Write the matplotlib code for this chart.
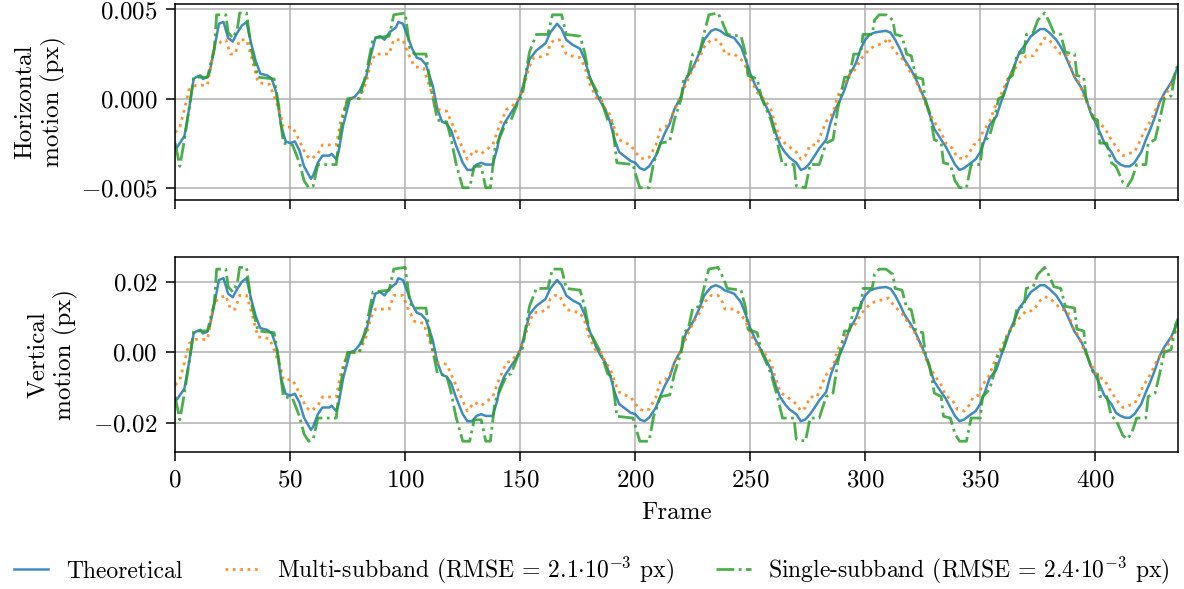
import numpy as np
import matplotlib
matplotlib.use("Agg")
import matplotlib.pyplot as plt

# Motion
# each entry: (frame, horizontal in 1e-3 px, vertical in 1e-3 px)
theoretical = [
    (0, -2.8, -13.7), (1, -2.7, -13.2), (4, -2.1, -10.3), (6, -0.6, -2.9), (8, 1.1, 5.4),
    (9, 1.2, 5.9), (11, 1.3, 6.4), (12, 1.1, 5.4), (14, 1.2, 5.9), (15, 1.5, 7.4),
    (17, 2.8, 13.7), (19, 4.2, 20.6), (21, 4.3, 21.1), (23, 3.4, 16.7), (25, 3.2, 15.7),
    (27, 3.7, 18.1), (29, 4.1, 20.1), (31, 4.3, 21.1), (33, 3.1, 15.2), (35, 2.1, 10.3),
    (37, 1.4, 6.9), (40, 1.3, 6.4), (42, 1.1, 5.4), (44, 0.3, 1.5), (46, -1.5, -7.4),
    (48, -2.4, -11.8), (50, -2.5, -12.3), (52, -2.4, -11.8), (54, -2.9, -14.2), (56, -3.8, -18.6),
    (59, -4.5, -22.1), (60, -4.3, -21.1), (62, -3.6, -17.6), (64, -3.2, -15.7), (67, -3.2, -15.7),
    (68, -3.1, -15.2), (70, -3.4, -16.7), (71, -3.0, -14.7), (73, -1.5, -7.4), (76, 0.0, 0.0),
    (78, 0.1, 0.5), (80, 0.4, 2.0), (83, 1.2, 5.9), (85, 2.4, 11.8), (87, 3.4, 16.7),
    (89, 3.5, 17.2), (91, 3.3, 16.2), (93, 3.7, 18.1), (96, 4.0, 19.6), (97, 4.3, 21.1),
    (99, 4.2, 20.6), (101, 3.5, 17.2), (103, 2.8, 13.7), (105, 2.3, 11.3), (107, 2.2, 10.8),
    (109, 1.9, 9.3), (112, 0.7, 3.4), (114, -0.6, -2.9), (116, -1.3, -6.4), (118, -1.4, -6.9),
    (120, -1.8, -8.8), (122, -2.6, -12.7), (125, -3.6, -17.6), (127, -4.0, -19.6), (129, -4.0, -19.6),
    (131, -3.7, -18.1), (133, -3.6, -17.6), (135, -3.7, -18.1), (138, -3.7, -18.1), (140, -2.8, -13.7),
    (141, -2.1, -10.3), (143, -1.4, -6.9), (146, -0.8, -3.9), (148, -0.4, -2.0), (150, 0.15, 0.7),
    (152, 1.1, 5.4), (154, 2.2, 10.8), (157, 2.7, 13.2), (159, 2.9, 14.2), (161, 3.1, 15.2),
    (163, 3.7, 18.1), (166, 4.2, 20.6), (168, 3.9, 19.1), (170, 3.3, 16.2), (173, 3.0, 14.7),
    (176, 2.8, 13.7), (178, 2.2, 10.8), (180, 1.3, 6.4), (183, 0.3, 1.5), (185, -0.2, -1.0),
    (187, -0.6, -2.9), (189, -1.3, -6.4), (191, -2.3, -11.3), (193, -3.0, -14.7), (196, -3.3, -16.2),
    (198, -3.5, -17.2), (200, -3.6, -17.6), (202, -3.9, -19.1), (204, -4.0, -19.6), (206, -3.8, -18.6),
    (209, -3.2, -15.7), (211, -2.5, -12.3), (213, -1.9, -9.3), (215, -1.4, -6.9), (217, -0.6, -2.9),
    (220, 0.15, 0.7), (222, 1.1, 5.4), (224, 1.5, 7.4), (226, 2.0, 9.8), (228, 2.6, 12.7),
    (230, 3.3, 16.2), (233, 3.8, 18.6), (235, 3.9, 19.1), (237, 3.8, 18.6), (239, 3.6, 17.6),
    (241, 3.5, 17.2), (243, 3.4, 16.7), (246, 2.9, 14.2), (248, 2.2, 10.8), (250, 1.4, 6.9),
    (252, 0.8, 3.9), (254, 0.3, 1.5), (256, -0.2, -1.0), (259, -1.0, -4.9), (261, -1.9, -9.3),
    (263, -2.6, -12.7), (265, -3.0, -14.7), (267, -3.3, -16.2), (270, -3.6, -17.6), (272, -4.0, -19.6),
    (274, -3.9, -19.1), (276, -3.6, -17.6), (278, -3.2, -15.7), (280, -2.8, -13.7), (283, -2.3, -11.3),
    (285, -1.3, -6.4), (287, -0.6, -2.9), (289, -0.1, -0.5), (291, 0.5, 2.5), (293, 1.3, 6.4),
    (296, 2.0, 9.8), (298, 2.8, 13.7), (300, 3.3, 16.2), (302, 3.6, 17.6), (304, 3.7, 18.1),
    (306, 3.75, 18.4), (309, 3.8, 18.6), (311, 3.7, 18.1), (313, 3.3, 16.2), (315, 2.8, 13.7),
    (317, 2.2, 10.8), (320, 1.6, 7.8), (322, 1.1, 5.4), (324, 0.5, 2.5), (326, -0.1, -0.5),
    (328, -0.9, -4.4), (330, -1.7, -8.3), (333, -2.3, -11.3), (335, -2.7, -13.2), (337, -3.2, -15.7),
    (339, -3.7, -18.1), (341, -4.0, -19.6), (343, -3.9, -19.1), (346, -3.6, -17.6), (348, -3.4, -16.7),
    (350, -3.0, -14.7), (352, -2.3, -11.3), (354, -1.5, -7.4), (357, -1.0, -4.9), (359, -0.2, -1.0),
    (361, 0.5, 2.5), (363, 1.3, 6.4), (365, 1.9, 9.3), (367, 2.6, 12.7), (370, 3.1, 15.2),
    (372, 3.5, 17.2), (374, 3.7, 18.1), (376, 3.9, 19.1), (378, 3.9, 19.1), (380, 3.7, 18.1),
    (383, 3.3, 16.2), (385, 2.9, 14.2), (387, 2.4, 11.8), (389, 1.8, 8.8), (391, 1.2, 5.9),
    (394, 0.6, 2.9), (396, 0.0, 0.0), (398, -0.8, -3.9), (400, -1.3, -6.4), (402, -1.9, -9.3),
    (404, -2.5, -12.3), (407, -3.0, -14.7), (409, -3.5, -17.2), (411, -3.7, -18.1), (413, -3.8, -18.6),
    (415, -3.8, -18.6), (417, -3.6, -17.6), (420, -3.0, -14.7), (422, -2.3, -11.3), (424, -1.7, -8.3),
    (426, -1.0, -4.9), (428, -0.2, -1.0), (430, 0.3, 1.5), (433, 0.9, 4.4), (435, 1.5, 7.4),
    (436, 1.8, 8.8),
]

multi_subband = [
    (0, -1.9, -9.3), (2, -1.6, -7.8), (4, -0.6, -2.9), (6, 0.5, 2.5), (9, 0.75, 3.7),
    (14, 0.75, 3.7), (15, 1.5, 7.4), (17, 2.9, 14.2), (20, 3.2, 15.7), (22, 3.3, 16.2),
    (24, 2.5, 12.3), (26, 2.5, 12.3), (28, 3.3, 16.2), (31, 3.3, 16.2), (33, 2.4, 11.8),
    (36, 0.9, 4.4), (41, 0.8, 3.9), (43, 0.15, 0.7), (46, -1.0, -4.9), (47, -1.6, -7.8),
    (51, -1.6, -7.8), (53, -2.1, -10.3), (57, -3.2, -15.7), (59, -3.4, -16.7), (62, -3.1, -15.2),
    (64, -2.6, -12.7), (70, -2.6, -12.7), (72, -1.2, -5.9), (75, 0.0, 0.0), (80, 0.0, 0.0),
    (83, 0.9, 4.4), (85, 2.0, 9.8), (87, 2.5, 12.3), (93, 2.5, 12.3), (95, 3.3, 16.2),
    (99, 3.3, 16.2), (101, 2.6, 12.7), (104, 1.8, 8.8), (108, 1.7, 8.3), (110, 0.9, 4.4),
    (114, -0.6, -2.9), (118, -0.7, -3.4), (121, -1.6, -7.8), (124, -2.5, -12.3), (127, -3.4, -16.7),
    (130, -2.9, -14.2), (133, -3.1, -15.2), (138, -2.6, -12.7), (141, -1.5, -7.4), (144, -0.6, -2.9),
    (146, -0.5, -2.5), (148, -0.2, -1.0), (150, 0.15, 0.7), (152, 0.9, 4.4), (154, 1.8, 8.8),
    (156, 2.3, 11.3), (159, 2.35, 11.5), (162, 2.5, 12.3), (163, 3.1, 15.2), (165, 3.3, 16.2),
    (167, 3.3, 16.2), (170, 2.5, 12.3), (172, 2.4, 11.8), (176, 2.3, 11.3), (178, 1.8, 8.8),
    (180, 0.9, 4.4), (183, 0.05, 0.2), (185, 0.0, 0.0), (187, -0.6, -2.9), (189, -0.9, -4.4),
    (191, -1.7, -8.3), (193, -2.3, -11.3), (196, -2.5, -12.3), (198, -2.6, -12.7), (200, -3.0, -14.7),
    (202, -3.3, -16.2), (204, -3.4, -16.7), (206, -3.3, -16.2), (209, -2.6, -12.7), (211, -1.7, -8.3),
    (213, -1.6, -7.8), (215, -1.3, -6.4), (217, -0.6, -2.9), (220, 0.15, 0.7), (222, 0.8, 3.9),
    (224, 1.4, 6.9), (226, 1.9, 9.3), (228, 2.3, 11.3), (230, 2.9, 14.2), (233, 3.3, 16.2),
    (236, 3.3, 16.2), (238, 2.9, 14.2), (239, 2.5, 12.3), (243, 2.5, 12.3), (246, 2.2, 10.8),
    (248, 1.8, 8.8), (250, 1.1, 5.4), (252, 0.6, 2.9), (254, 0.15, 0.7), (256, 0.0, 0.0),
    (259, -0.6, -2.9), (261, -1.5, -7.4), (263, -2.3, -11.3), (265, -2.5, -12.3), (267, -2.7, -13.2),
    (270, -3.0, -14.7), (272, -3.4, -16.7), (274, -3.2, -15.7), (276, -2.6, -12.7), (279, -2.6, -12.7),
    (281, -1.9, -9.3), (283, -1.3, -6.4), (286, -0.8, -3.9), (288, 0.15, 0.7), (291, 0.8, 3.9),
    (293, 1.3, 6.4), (296, 1.7, 8.3), (298, 2.2, 10.8), (300, 2.5, 12.3), (302, 2.8, 13.7),
    (305, 3.0, 14.7), (308, 3.1, 15.0), (310, 3.4, 15.5), (312, 2.8, 13.7), (314, 2.5, 12.3),
    (317, 2.1, 10.3), (319, 1.6, 7.8), (321, 1.3, 6.4), (323, 0.7, 3.4), (325, 0.15, 0.7),
    (327, -0.6, -2.9), (330, -1.3, -6.4), (333, -1.9, -9.3), (335, -2.5, -12.3), (338, -2.8, -13.7),
    (340, -3.3, -16.2), (343, -3.4, -16.7), (345, -3.1, -15.2), (347, -2.6, -12.7), (349, -2.5, -12.3),
    (351, -1.9, -9.3), (354, -1.3, -6.4), (356, -0.6, -2.9), (358, 0.0, 0.0), (360, 0.5, 2.5),
    (362, 1.1, 5.4), (364, 1.5, 7.4), (367, 2.0, 9.8), (370, 2.4, 11.8), (373, 2.4, 11.8),
    (376, 3.0, 14.7), (378, 3.4, 15.8), (380, 3.3, 15.5), (383, 2.8, 13.7), (385, 2.5, 12.3),
    (388, 2.4, 11.8), (390, 1.5, 7.4), (393, 0.9, 4.4), (395, 0.15, 0.7), (397, -0.4, -2.0),
    (399, -0.9, -4.4), (401, -1.4, -6.9), (404, -1.6, -7.8), (406, -2.1, -10.3), (408, -2.5, -12.3),
    (410, -2.9, -14.2), (412, -3.2, -15.7), (414, -3.1, -15.2), (417, -3.0, -14.7), (419, -2.5, -12.3),
    (421, -1.9, -9.3), (423, -1.5, -7.4), (425, -1.0, -4.9), (427, -0.4, -2.0), (430, 0.15, 0.7),
    (432, 0.5, 2.5), (434, 1.1, 5.4), (436, 1.3, 6.4),
]

single_subband = [
    (0, -2.5, -12.6), (2, -3.8, -19.2), (4, -2.3, -11.6), (6, -0.6, -3.0), (8, 1.2, 6.1),
    (14, 1.2, 6.1), (17, 2.8, 14.1), (18, 4.7, 23.7), (22, 4.7, 23.7), (23, 3.7, 18.7),
    (25, 3.4, 17.2), (27, 3.9, 19.7), (28, 4.8, 24.2), (31, 4.8, 24.2), (33, 2.8, 14.1),
    (36, 1.2, 6.1), (43, 1.1, 5.6), (45, -0.4, -2.0), (47, -2.5, -12.6), (51, -2.6, -13.1),
    (54, -3.6, -18.2), (56, -4.6, -23.2), (58, -5.0, -25.3), (60, -4.9, -24.7), (62, -3.7, -18.7),
    (70, -3.7, -18.7), (71, -2.5, -12.6), (73, -1.0, -5.1), (75, 0.0, 0.0), (80, 0.0, 0.0),
    (83, 1.4, 7.1), (86, 3.4, 17.2), (93, 3.5, 17.7), (95, 4.7, 23.7), (100, 4.8, 24.2),
    (102, 2.8, 14.1), (104, 2.5, 12.6), (109, 2.5, 12.6), (111, 0.7, 3.5), (114, -1.2, -6.1),
    (118, -1.3, -6.6), (120, -2.3, -11.6), (122, -3.6, -18.2), (125, -5.0, -25.3), (128, -5.0, -25.3),
    (130, -3.8, -19.2), (133, -3.8, -19.2), (135, -5.0, -25.3), (137, -5.0, -25.3), (139, -2.8, -14.1),
    (141, -2.2, -11.1), (144, -1.3, -6.6), (146, -1.2, -6.1), (149, -0.2, -1.0), (151, 0.24, 1.2),
    (152, 1.1, 5.6), (154, 2.6, 13.1), (157, 3.6, 18.2), (162, 3.6, 18.2), (164, 4.7, 23.7),
    (168, 4.7, 23.7), (170, 3.6, 18.2), (176, 3.5, 17.7), (178, 2.6, 13.1), (180, 1.2, 6.1),
    (185, 0.0, 0.0), (188, -1.2, -6.1), (190, -1.4, -7.1), (192, -3.6, -18.2), (199, -3.7, -18.7),
    (201, -4.6, -23.2), (202, -5.0, -25.3), (206, -5.0, -25.3), (208, -3.6, -18.2), (211, -2.5, -12.6),
    (215, -2.4, -12.1), (217, -1.2, -6.1), (220, 0.0, 0.0), (221, 1.1, 5.6), (223, 1.3, 6.6),
    (225, 2.5, 12.6), (228, 2.6, 13.1), (230, 3.7, 18.7), (232, 4.7, 23.7), (236, 4.8, 24.2),
    (238, 4.25, 21.5), (240, 3.6, 18.2), (246, 3.5, 17.7), (248, 2.5, 12.6), (249, 1.3, 6.6),
    (253, 1.1, 5.6), (255, 0.0, 0.0), (257, -0.6, -3.0), (259, -1.2, -6.1), (262, -2.6, -13.1),
    (264, -3.7, -18.7), (269, -3.7, -18.7), (270, -4.9, -24.7), (274, -5.0, -25.3), (276, -3.7, -18.7),
    (280, -3.7, -18.7), (283, -2.5, -12.6), (286, -2.3, -11.6), (288, -0.6, -3.0), (289, 0.0, 0.0),
    (291, 1.2, 6.1), (293, 1.2, 6.1), (295, 2.5, 12.6), (298, 2.5, 12.6), (299, 3.6, 18.2),
    (303, 3.6, 18.2), (304, 4.4, 22.2), (306, 4.7, 23.7), (309, 4.7, 23.7), (312, 4.4, 22.2),
    (313, 3.6, 18.2), (316, 3.5, 17.7), (318, 2.5, 12.6), (320, 2.4, 12.1), (322, 1.2, 6.1),
    (325, 1.1, 5.6), (326, 0.0, 0.0), (328, -0.8, -4.0), (330, -2.3, -11.6), (333, -2.5, -12.6),
    (334, -3.6, -18.2), (337, -3.7, -18.7), (339, -4.6, -23.2), (341, -5.0, -25.3), (344, -5.0, -25.3),
    (346, -3.7, -18.7), (350, -3.7, -18.7), (351, -2.5, -12.6), (354, -2.1, -10.6), (356, -1.2, -6.1),
    (358, 0.0, 0.0), (360, 0.15, 0.8), (362, 1.1, 5.6), (364, 1.3, 6.6), (366, 2.5, 12.6),
    (369, 2.6, 13.1), (370, 3.6, 18.2), (373, 3.7, 18.7), (375, 4.4, 22.2), (378, 4.8, 24.2),
    (380, 4.3, 21.7), (382, 3.7, 18.7), (385, 3.6, 18.2), (387, 2.6, 13.1), (391, 2.5, 12.6),
    (392, 1.3, 6.6), (395, 1.2, 6.1), (396, 0.0, 0.0), (399, -1.1, -5.6), (401, -1.2, -6.1),
    (402, -2.5, -12.6), (405, -2.5, -12.6), (407, -3.6, -18.2), (409, -3.8, -19.2), (412, -4.7, -23.7),
    (414, -4.9, -24.7), (416, -4.5, -22.7), (418, -3.7, -18.7), (422, -3.7, -18.7), (423, -2.5, -12.6),
    (426, -2.3, -11.6), (428, -1.2, -6.1), (430, 0.0, 0.0), (433, 0.15, 0.8), (435, 1.6, 8.1),
    (436, 1.9, 9.6),
]

labels = ["Theoretical",
          r"Multi-subband (RMSE = $2.1{\cdot}10^{-3}$ px)",
          r"Single-subband (RMSE = $2.4{\cdot}10^{-3}$ px)"]
h_ticks = [-0.005, 0.0, 0.005]
v_ticks = [-0.02, 0.0, 0.02]
x_ticks = [0, 50, 100, 150, 200, 250, 300, 350, 400]

# LaTeX-like look without LaTeX
plt.rcParams['font.family'] = ['cmr10', 'DejaVu Serif']
plt.rcParams['mathtext.fontset'] = 'cm'
plt.rcParams['axes.formatter.use_mathtext'] = True
plt.rcParams['axes.unicode_minus'] = True
plt.rcParams['font.size'] = 18

fig = plt.figure(figsize=(11.84, 5.89), dpi=100)
ax1 = fig.add_axes([0.148, 0.661, 0.847, 0.332])
ax2 = fig.add_axes([0.148, 0.233, 0.847, 0.331], sharex=ax1)

styles = [dict(color='C0', ls='-', lw=1.8, alpha=0.85),
          dict(color='C1', ls=':', lw=2.0, alpha=0.85),
          dict(color='C2', ls='-.', lw=2.0, alpha=0.85)]

for series, st, lab in zip([theoretical, multi_subband, single_subband], styles, labels):
    arr = np.array(series)
    ax1.plot(arr[:, 0], arr[:, 1] * 1e-3, label=lab, **st)
    ax2.plot(arr[:, 0], arr[:, 2] * 1e-3, **st)

for ax in (ax1, ax2):
    ax.grid(True, color='#b0b0b0', lw=1.1)
    ax.set_axisbelow(True)
    ax.tick_params(direction='out', length=6.5, width=1.1, pad=6)
    for sp in ax.spines.values():
        sp.set_linewidth(1.1)

ax1.set_xlim(0, 436)
ax1.set_xticks(x_ticks)
ax1.set_yticks(h_ticks)
ax1.set_ylim(-0.00567, 0.00530)
ax1.tick_params(labelbottom=False)
ax1.set_ylabel("Horizontal\nmotion (px)", multialignment='center', labelpad=11)

ax2.set_yticks(v_ticks)
ax2.set_ylim(-0.0283, 0.0272)
ax2.set_xlabel("Frame", labelpad=8)
ax2.set_ylabel("Vertical\nmotion (px)", multialignment='center', labelpad=11)

fig.align_ylabels([ax1, ax2])

fig.legend(loc='center', bbox_to_anchor=(0.5, 0.031), ncol=3, frameon=False, fontsize=17,
           handlelength=1.45, handletextpad=0.75, columnspacing=1.8)

plt.savefig("out.png", dpi=100)
